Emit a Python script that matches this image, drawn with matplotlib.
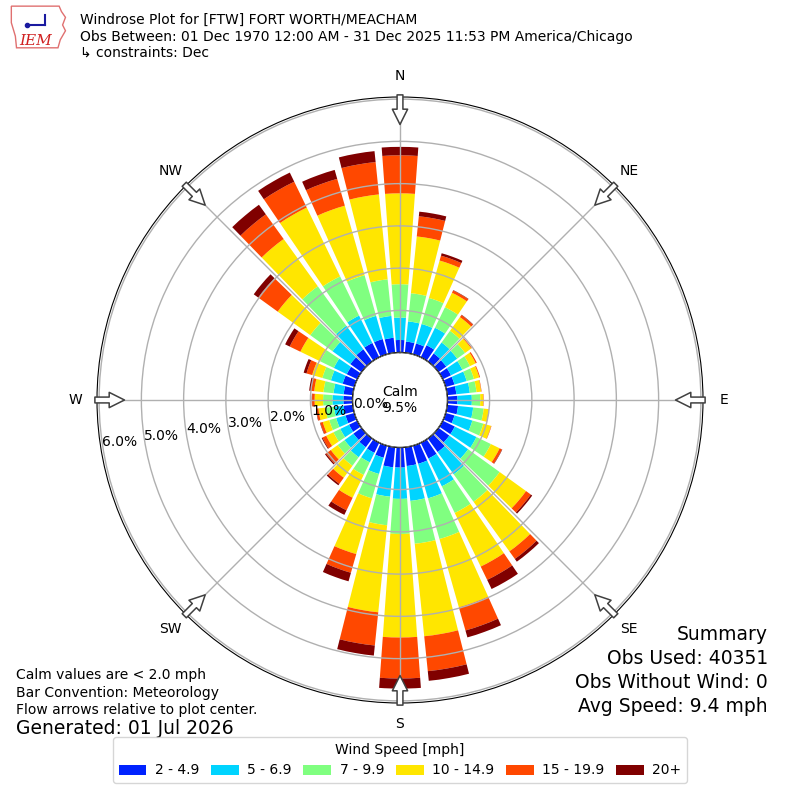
import numpy as np
import matplotlib
matplotlib.use('Agg')
import matplotlib.pyplot as plt
from matplotlib.patches import Patch, Polygon

# direcciones (grados, convención meteorológica) y rangos de velocidad
direcciones = np.arange(0, 360, 10)
rangos = ['2 - 4.9', '5 - 6.9', '7 - 9.9', '10 - 14.9', '15 - 19.9', '20+']
colores = ['#0022ff', '#00d4ff', '#80ff80', '#ffe600', '#ff4800', '#800000']
etiq_dir = ['N', 'NE', 'E', 'SE', 'S', 'SW', 'W', 'NW']

# frecuencia (%) por direccion, una lista por rango de velocidad
v_2_5 = [0.30, 0.27, 0.27, 0.32, 0.24, 0.23, 0.22, 0.22, 0.22, 0.24, 0.26, 0.22,
         0.32, 0.32, 0.40, 0.42, 0.45, 0.45, 0.48, 0.48, 0.30, 0.27, 0.26, 0.24,
         0.22, 0.22, 0.22, 0.22, 0.22, 0.29, 0.28, 0.33, 0.36, 0.38, 0.38, 0.36]
v_5_7 = [0.53, 0.48, 0.48, 0.46, 0.32, 0.32, 0.30, 0.30, 0.32, 0.34, 0.36, 0.44,
         0.57, 0.55, 0.65, 0.73, 0.85, 0.83, 0.74, 0.70, 0.40, 0.25, 0.29, 0.26,
         0.23, 0.23, 0.23, 0.26, 0.24, 0.29, 0.34, 0.52, 0.69, 0.72, 0.57, 0.52]
v_7_10 = [0.79, 0.67, 0.64, 0.54, 0.34, 0.23, 0.20, 0.18, 0.16, 0.20, 0.25, 0.27,
          0.38, 0.92, 0.80, 0.70, 1.00, 1.02, 0.83, 0.68, 0.60, 0.33, 0.25, 0.20,
          0.18, 0.17, 0.20, 0.22, 0.24, 0.21, 0.36, 0.65, 1.15, 1.03, 1.00, 0.87]
v_10_15 = [2.15, 1.35, 0.92, 0.38, 0.40, 0.18, 0.15, 0.13, 0.11, 0.07, 0.12, 0.19,
           0.23, 0.77, 1.45, 1.41, 1.68, 2.20, 2.45, 2.07, 1.37, 0.60, 0.35, 0.20,
           0.19, 0.16, 0.17, 0.20, 0.22, 0.25, 0.52, 0.95, 1.38, 1.81, 1.71, 2.02]
v_15_20 = [0.90, 0.48, 0.12, 0.06, 0.06, 0.02, 0.03, 0.02, 0.01, 0.01, 0.01, 0.01,
           0.06, 0.14, 0.22, 0.35, 0.57, 0.83, 0.97, 0.79, 0.46, 0.33, 0.18, 0.14,
           0.10, 0.06, 0.05, 0.06, 0.08, 0.14, 0.28, 0.57, 0.72, 0.68, 0.66, 0.77]
v_20 = [0.20, 0.11, 0.06, 0.01, 0.01, 0.00, 0.00, 0.00, 0.00, 0.00, 0.00, 0.00,
        0.01, 0.04, 0.08, 0.24, 0.17, 0.23, 0.24, 0.24, 0.21, 0.12, 0.04, 0.03,
        0.02, 0.01, 0.01, 0.01, 0.04, 0.07, 0.12, 0.13, 0.28, 0.24, 0.22, 0.26]
series = [v_2_5, v_5_7, v_7_10, v_10_15, v_15_20, v_20]

calma = 9.5

fig = plt.figure(figsize=(8, 8), dpi=100)
ax = fig.add_axes([0.12125, 0.12125, 0.7575, 0.7575], projection='polar')
ax.set_theta_zero_location('N')
ax.set_theta_direction(-1)
ax.set_ylim(0, 6.05)
ax.set_rorigin(-1.12)

theta = np.deg2rad(direcciones)
base = np.zeros(len(direcciones))
for vals, col in zip(series, colores):
    ax.bar(theta, vals, width=np.deg2rad(8.3), bottom=base, color=col,
           linewidth=0, zorder=1)
    base = base + np.array(vals)

# rejilla por encima de las barras
ax.set_axisbelow(False)
ax.set_yticks(range(7))
ax.set_yticklabels([])
ax.set_xticks(np.deg2rad(np.arange(0, 360, 45)))
ax.set_xticklabels([])
ax.grid(True, color='#b0b0b0', lw=1)

# circulo de calma
tt = np.linspace(0, 2 * np.pi, 361)
ax.fill(tt, np.zeros_like(tt), color='white', zorder=3)
ax.plot(tt, np.zeros_like(tt), color='black', lw=1.2, zorder=3.5)
ax.text(0, -1.12, 'Calm\n%.1f%%' % calma, ha='center', va='center',
        fontsize=10, zorder=6)

for k in range(7):
    ax.text(np.deg2rad(261.5), k - 0.42, '%.1f%%' % k, ha='center',
            va='center', fontsize=10, zorder=6)

for lab, ang in zip(etiq_dir, range(0, 360, 45)):
    ax.text(np.deg2rad(ang), 6.55, lab, ha='center', va='center', fontsize=10)
    ax.annotate('', xy=(np.deg2rad(ang), 5.4), xytext=(np.deg2rad(ang), 6.1),
                arrowprops=dict(arrowstyle='simple,head_length=1.1,head_width=1.1,tail_width=0.42',
                                fc='white', ec='#404040', lw=1.1, shrinkA=0,
                                shrinkB=0, mutation_scale=10),
                annotation_clip=False, zorder=7)

# textos
fig.text(0.1, 1 - 20 / 800, 'Windrose Plot for [FTW] FORT WORTH/MEACHAM',
         fontsize=10, va='center')
fig.text(0.1, 1 - 37 / 800,
         'Obs Between: 01 Dec 1970 12:00 AM - 31 Dec 2025 11:53 PM America/Chicago',
         fontsize=10, va='center')
fig.text(0.1, 1 - 53 / 800, '\u21b3 constraints: Dec', fontsize=10, va='center')

resumen = ['Summary', 'Obs Used: 40351', 'Obs Without Wind: 0', 'Avg Speed: 9.4 mph']
for i, s in enumerate(resumen):
    fig.text(768 / 800, 1 - (635 + 23.7 * i) / 800, s, ha='right', va='center',
             fontsize=13.5)

notas = ['Calm values are < 2.0 mph', 'Bar Convention: Meteorology',
         'Flow arrows relative to plot center.']
for i, s in enumerate(notas):
    fig.text(16 / 800, 1 - (675 + 17.5 * i) / 800, s, va='center', fontsize=10)
fig.text(16 / 800, 1 - 729 / 800, 'Generated: 01 Jul 2026', va='center',
         fontsize=13.5)

handles = [Patch(facecolor=c, label=l) for c, l in zip(colores, rangos)]
fig.legend(handles=handles, loc='lower center', bbox_to_anchor=(0.5, 0.0125),
           ncol=6, fontsize=10, title='Wind Speed [mph]', title_fontsize=10,
           handlelength=2.0, handletextpad=0.6, columnspacing=0.85)

# logo IEM simplificado
lg = fig.add_axes([0.012, 0.938, 0.072, 0.056])
lg.set_xlim(0, 1)
lg.set_ylim(0, 1)
lg.axis('off')
lg.add_patch(Polygon([(0.03, 0.97), (0.86, 0.97), (0.9, 0.85), (0.97, 0.72),
                      (0.92, 0.55), (0.97, 0.42), (0.88, 0.22), (0.84, 0.04),
                      (0.12, 0.04), (0.1, 0.3), (0.03, 0.6)],
                     closed=True, fill=False, ec='#e07070', lw=1))
lg.plot([0.3, 0.62], [0.55, 0.55], color='#1a1aa0', lw=1.5)
lg.plot([0.62, 0.62], [0.55, 0.78], color='#1a1aa0', lw=1.5)
lg.plot([0.3], [0.55], 'o', color='#1a1aa0', ms=3)
lg.text(0.45, 0.2, 'IEM', color='#d02020', fontsize=11, family='serif',
        style='italic', ha='center', va='center')

fig.savefig('out.png', dpi=100)
